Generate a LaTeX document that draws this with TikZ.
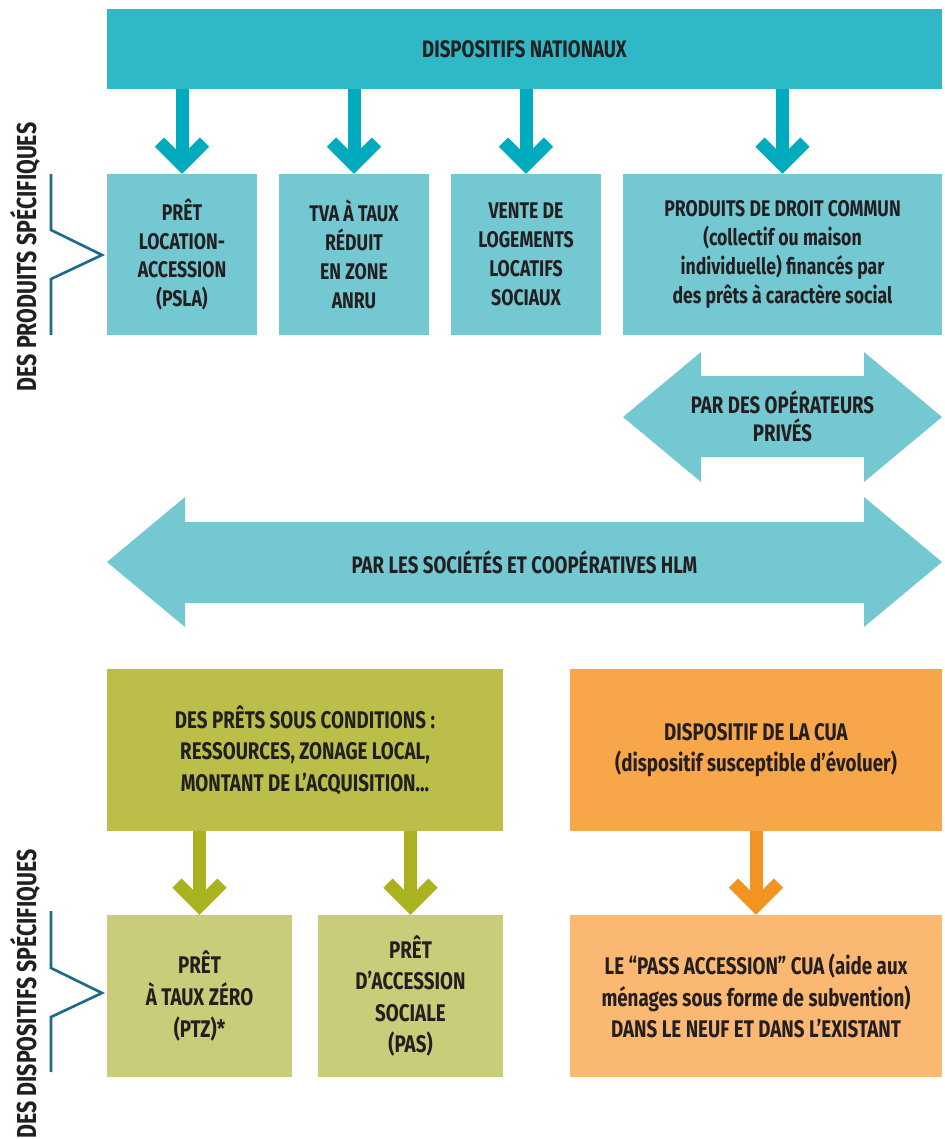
\documentclass[tikz,border=0pt]{standalone}
\usepackage{fontspec}
\setmainfont{Fira Sans}[FakeStretch=0.78]
\usetikzlibrary{calc}

\definecolor{natbar}{HTML}{2FB8C6}
\definecolor{natarrow}{HTML}{00ABBD}
\definecolor{natbox}{HTML}{74C8D2}
\definecolor{pretbar}{HTML}{BBBF4A}
\definecolor{pretarrow}{HTML}{AAB31F}
\definecolor{pretbox}{HTML}{C9CD79}
\definecolor{cuabar}{HTML}{F8A64A}
\definecolor{cuaarrow}{HTML}{F39322}
\definecolor{cuabox}{HTML}{FAB873}
\definecolor{bracketblue}{HTML}{1D6A8C}
\definecolor{ink}{HTML}{231F20}

% thick down arrow with a chevron head, from node #2 to node #3
\newcommand{\dnarrow}[3]{%
  \draw [#1,line width=0.26cm] (#2.south -| #3.north) -- ($(#3.north)+(0,-14)$);
  \draw [#1,line width=0.26cm] ($(#3.north)+(-22.5,-31.5)$) -- ($(#3.north)+(0,-9)$) -- ($(#3.north)+(22.5,-31.5)$);
}

\tikzset{
  bigtxt/.style={font=\bfseries\fontsize{13.6}{16}\selectfont},
  sidetxt/.style={font=\bfseries\fontsize{15.6}{18}\selectfont},
  smalltxt/.style={font=\bfseries\fontsize{12.9}{16.4}\selectfont},
  midtxt/.style={font=\bfseries\fontsize{13.7}{18}\selectfont},
  prodbox/.style={fill=natbox,minimum width=3cm,minimum height=3.22cm,smalltxt},
  accbox/.style={minimum height=3.24cm,midtxt},
  bracket/.style={bracketblue,line width=1.5pt},
}

\begin{document}
\begin{tikzpicture}[x=0.02cm,y=-0.02cm]
\tikzstyle{every node}+=[inner sep=0pt,text=ink,align=center]
\useasboundingbox (0,0) rectangle (944,1139);

% dispositifs nationaux
\node [fill=natbar,minimum width=16.7cm,minimum height=1.6cm,bigtxt] (nat) at (524.5,49) {DISPOSITIFS NATIONAUX};
\node [prodbox] (psla) at (182,254.5) {PRÊT\\LOCATION-\\ACCESSION\\(PSLA)};
\node [prodbox] (tva) at (354,254.5) {TVA À TAUX\\RÉDUIT\\EN ZONE\\ANRU};
\node [prodbox] (vente) at (526,254.5) {VENTE DE\\LOGEMENTS\\LOCATIFS\\SOCIAUX};
\node [prodbox,minimum width=6.38cm] (droit) at (782.5,254.5) {PRODUITS DE DROIT COMMUN\\(collectif ou maison\\individuelle) financés par\\des prêts à caractère social};
\dnarrow{natarrow}{nat}{psla}
\dnarrow{natarrow}{nat}{tva}
\dnarrow{natarrow}{nat}{vente}
\dnarrow{natarrow}{nat}{droit}

% double arrows
\fill [natbox] (623,417) -- (701,352) -- (701,376) -- (864,376) -- (864,352) -- (942,417)
  -- (864,482) -- (864,457) -- (701,457) -- (701,482) -- cycle;
\node [bigtxt] (prives) at (782.5,416.5) {PAR DES OPÉRATEURS\\PRIVÉS};
\fill [natbox] (107,562) -- (185,497) -- (185,522) -- (864,522) -- (864,497) -- (942,562)
  -- (864,627) -- (864,603) -- (185,603) -- (185,627) -- cycle;
\node [bigtxt] (hlm) at (524.5,562) {PAR LES SOCIÉTÉS ET COOPÉRATIVES HLM};

% accession
\node [accbox,fill=pretbar,minimum width=7.92cm] (prets) at (305,750) {DES PRÊTS SOUS CONDITIONS :\\RESSOURCES, ZONAGE LOCAL,\\MONTANT DE L’ACQUISITION...};
\node [accbox,fill=pretbox,minimum width=3.7cm] (ptz) at (199.5,996) {PRÊT\\À TAUX ZÉRO\\(PTZ)*};
\node [accbox,fill=pretbox,minimum width=3.7cm] (pas) at (410.5,996) {PRÊT\\D’ACCESSION\\SOCIALE\\(PAS)};
\node [accbox,fill=cuabar,minimum width=7.44cm] (cua) at (756,750) {DISPOSITIF DE LA CUA\\(dispositif susceptible d’évoluer)};
\node [accbox,fill=cuabox,minimum width=7.44cm] (pass) at (756,996) {LE “PASS ACCESSION” CUA (aide aux\\ménages sous forme de subvention)\\DANS LE NEUF ET DANS L’EXISTANT};
\dnarrow{pretarrow}{prets}{ptz}
\dnarrow{pretarrow}{prets}{pas}
\dnarrow{cuaarrow}{cua}{pass}

% side labels
\draw [bracket] (51,174) -- (51,230) -- (102,255) -- (51,279) -- (51,335);
\node [sidetxt,rotate=90] (produits) at (25,257) {DES PRODUITS SPÉCIFIQUES};
\draw [bracket] (51,911) -- (51,968) -- (102,993) -- (51,1017) -- (51,1072);
\node [sidetxt,rotate=90] (disp) at (25,994) {DES DISPOSITIFS SPÉCIFIQUES};
\end{tikzpicture}
\end{document}
